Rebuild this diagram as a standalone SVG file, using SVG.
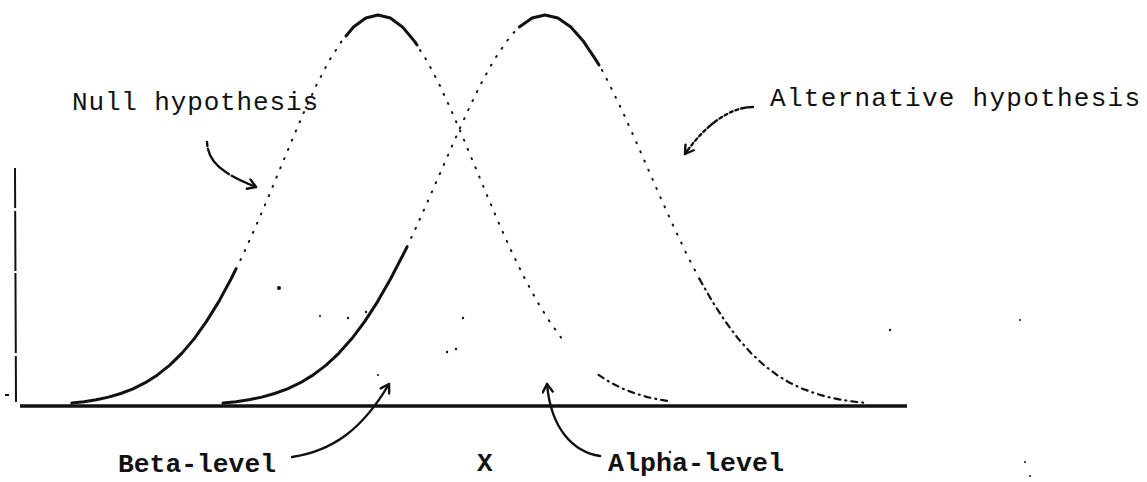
<svg xmlns="http://www.w3.org/2000/svg" width="1147" height="482" viewBox="0 0 1147 482">
<style>
.solid{fill:none;stroke:#111;stroke-width:3;stroke-linecap:round;stroke-linejoin:round}
.dot{fill:none;stroke:#111;stroke-width:2;stroke-linecap:round;stroke-dasharray:1 9}
.dash{fill:none;stroke:#111;stroke-width:2.2;stroke-linecap:round;stroke-dasharray:6 5 1 5}
.lbl{font-family:"Liberation Mono","Courier New",monospace;fill:#111}
.conn{fill:none;stroke:#111;stroke-width:2.4;stroke-linecap:round}
.speck{fill:#111}
</style>
<defs>
<marker id="head" viewBox="-10 -6 12 12" refX="0" refY="0" markerWidth="12" markerHeight="12" markerUnits="userSpaceOnUse" orient="auto">
<path d="M-8 -5 L0 0 L-8 5" fill="none" stroke="#111" stroke-width="2.4" stroke-linecap="round" stroke-linejoin="round"/>
</marker>
</defs>
<rect width="1147" height="482" fill="#fff"/>

<g id="axes">
<line x1="20" y1="406" x2="907" y2="406" stroke="#111" stroke-width="3.5"/>
<line x1="15" y1="168" x2="16" y2="402" stroke="#111" stroke-width="2" stroke-dasharray="40 3 60 2 80 3 60"/>
<line x1="5" y1="395" x2="9" y2="395" stroke="#111" stroke-width="2"/>
</g>

<g id="null-curve">
<path class="solid" d="M71.8 403 L84 401.7 L96.3 399.7 L108.5 397.1 L120.8 393.5 L133 388.8 L145.3 382.7 L157.5 374.9 L169.8 365.1 L182 353.1 L194.3 338.6 L206.5 321.4 L218.8 301.6 L231 279 L236 269"/>
<path class="dot" d="M236 269 L243.3 254.1 L255.5 227 L267.8 198.3 L280 168.9 L292.3 139.4 L304.5 110.9 L316.8 84.4 L329 60.9 L341.3 41.6"/>
<path class="solid" d="M346 36 L353.5 27 L365.8 18 L378 15 L390.3 18 L402.5 27 L414.8 41.6 L417 45"/>
<path class="dot" d="M420 50 L427 60.9 L439.3 84.4 L451.5 110.9 L463.8 139.4 L476 168.9 L488.3 198.3 L500.5 227 L512.8 254.1 L525 279 L537.3 301.6 L549.5 321.4 L561.8 338.6"/>
<path class="dash" d="M598.5 374.9 L610.8 382.7 L623 388.8 L635.3 393.5 L647.5 397.1 L659.8 399.7 L668 401"/>
</g>

<g id="alt-curve">
<path class="solid" d="M223 403 L236 401.7 L248.9 399.7 L261.8 397.1 L274.6 393.5 L287.5 388.8 L300.4 382.7 L313.3 374.9 L326.1 365.1 L339 353.1 L351.9 338.6 L364.8 321.4 L377.6 301.6 L390.5 279 L403.4 254.1 L407 247"/>
<path class="dot" d="M407 247 L416.3 227 L429.1 198.3 L442 168.9 L454.9 139.4 L467.8 110.9 L480.6 84.4 L493.5 60.9 L506.4 41.6 L516 30"/>
<path class="solid" d="M519.3 27 L532.1 18 L545 15 L557.9 18 L570.8 27 L583.6 41.6 L596.5 60.9 L599 65"/>
<path class="dot" d="M602 70 L609.4 84.4 L622.3 110.9 L635.1 139.4 L648 168.9 L660.9 198.3 L673.8 227 L686.6 254.1 L699.5 279"/>
<path class="dash" d="M699.5 279 L712.4 301.6 L725.3 321.4 L738.1 338.6 L751 353.1 L763.9 365.1 L776.8 374.9 L789.6 382.7 L802.5 388.8 L815.4 393.5 L828.3 397.1 L841.1 399.7 L854 401.7 L866.9 403"/>
</g>

<g id="connectors">
<path class="conn" d="M207 142 C208 160 218 172 256 187" stroke-dasharray="4 3 30 0" marker-end="url(#head)"/>
<path class="conn" d="M753 107 C728 107 703 128 685 154" stroke-dasharray="12 3 3 3 3 3 3 3 3 3" marker-end="url(#head)"/>
<path class="conn" d="M292 457 C332 451 362 430 389 384" marker-end="url(#head)"/>
<path class="conn" d="M600 456 C574 452 551 430 547 384" marker-end="url(#head)"/>
</g>

<g id="label-null"><text class="lbl" x="72" y="110" font-size="26" textLength="246" lengthAdjust="spacing">Null hypothesis</text></g>
<g id="label-alt"><text class="lbl" x="770" y="106" font-size="26" textLength="370" lengthAdjust="spacing">Alternative hypothesis</text></g>
<g id="label-beta"><text class="lbl" x="118" y="472" font-size="26" font-weight="bold" textLength="158" lengthAdjust="spacingAndGlyphs">Beta-level</text></g>
<g id="label-x"><text class="lbl" x="477" y="471" font-size="26" font-weight="bold">X</text></g>
<g id="label-alpha"><text class="lbl" x="608" y="471" font-size="26" font-weight="bold" textLength="176" lengthAdjust="spacingAndGlyphs">Alpha-level</text></g>

<g id="specks">
<circle class="speck" cx="279" cy="288" r="2"/>
<circle class="speck" cx="320" cy="316" r="1"/>
<circle class="speck" cx="348" cy="318" r="1.2"/>
<circle class="speck" cx="366" cy="312" r="1.2"/>
<circle class="speck" cx="463" cy="318" r="1.2"/>
<circle class="speck" cx="447" cy="352" r="1.2"/>
<circle class="speck" cx="456" cy="349" r="1.2"/>
<circle class="speck" cx="378" cy="375" r="1"/>
<circle class="speck" cx="890" cy="330" r="1.2"/>
<circle class="speck" cx="670" cy="452" r="1.2"/>
<circle class="speck" cx="1020" cy="320" r="1"/>
<circle class="speck" cx="1025" cy="462" r="1"/>
<circle class="speck" cx="1030" cy="476" r="1"/>
</g>
</svg>
